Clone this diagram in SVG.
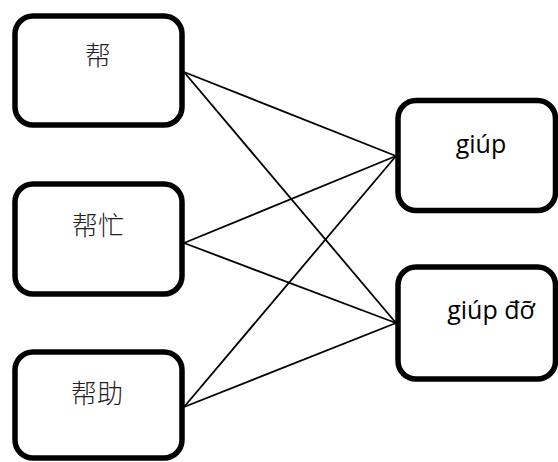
<svg xmlns="http://www.w3.org/2000/svg" width="558" height="462" viewBox="0 0 558 462">
  <style>
    .box { fill: #ffffff; stroke: #000000; stroke-width: 5.5; }
    .link { stroke: #000000; stroke-width: 1.8; fill: none; }
    .zh { font-family: "Noto Sans CJK SC", "Noto Sans", sans-serif; font-size: 26px; fill: #222222; text-anchor: middle; font-weight: 300; }
    .vi { font-family: "Open Sans", "Noto Sans", sans-serif; font-size: 25px; fill: #000000; text-anchor: middle; }
  </style>
  <rect width="558" height="462" fill="#ffffff"/>

  <!-- connectors: every Chinese word links to both Vietnamese words -->
  <g id="connectors">
    <line class="link" x1="184" y1="72" x2="396" y2="156"/>
    <line class="link" x1="184" y1="72" x2="396" y2="323"/>
    <line class="link" x1="184" y1="243" x2="396" y2="156"/>
    <line class="link" x1="184" y1="243" x2="396" y2="323"/>
    <line class="link" x1="184" y1="407" x2="396" y2="156"/>
    <line class="link" x1="184" y1="407" x2="396" y2="323"/>
  </g>

  <g id="node-bang">
    <rect class="box" x="15" y="16" width="167" height="109" rx="18" ry="18"/>
    <text class="zh" x="98" y="65">帮</text>
  </g>
  <g id="node-bangmang">
    <rect class="box" x="15" y="184" width="167" height="110" rx="18" ry="18"/>
    <text class="zh" x="98" y="235">帮忙</text>
  </g>
  <g id="node-bangzhu">
    <rect class="box" x="15" y="352" width="167" height="106" rx="18" ry="18"/>
    <text class="zh" x="97" y="403">帮助</text>
  </g>
  <g id="node-giup">
    <rect class="box" x="398" y="100.5" width="157.5" height="110" rx="18" ry="18"/>
    <text class="vi" x="481" y="153">giúp</text>
  </g>
  <g id="node-giupdo">
    <rect class="box" x="398" y="267" width="157.5" height="112" rx="18" ry="18"/>
    <text class="vi" x="491" y="319">giúp đỡ</text>
  </g>
</svg>
